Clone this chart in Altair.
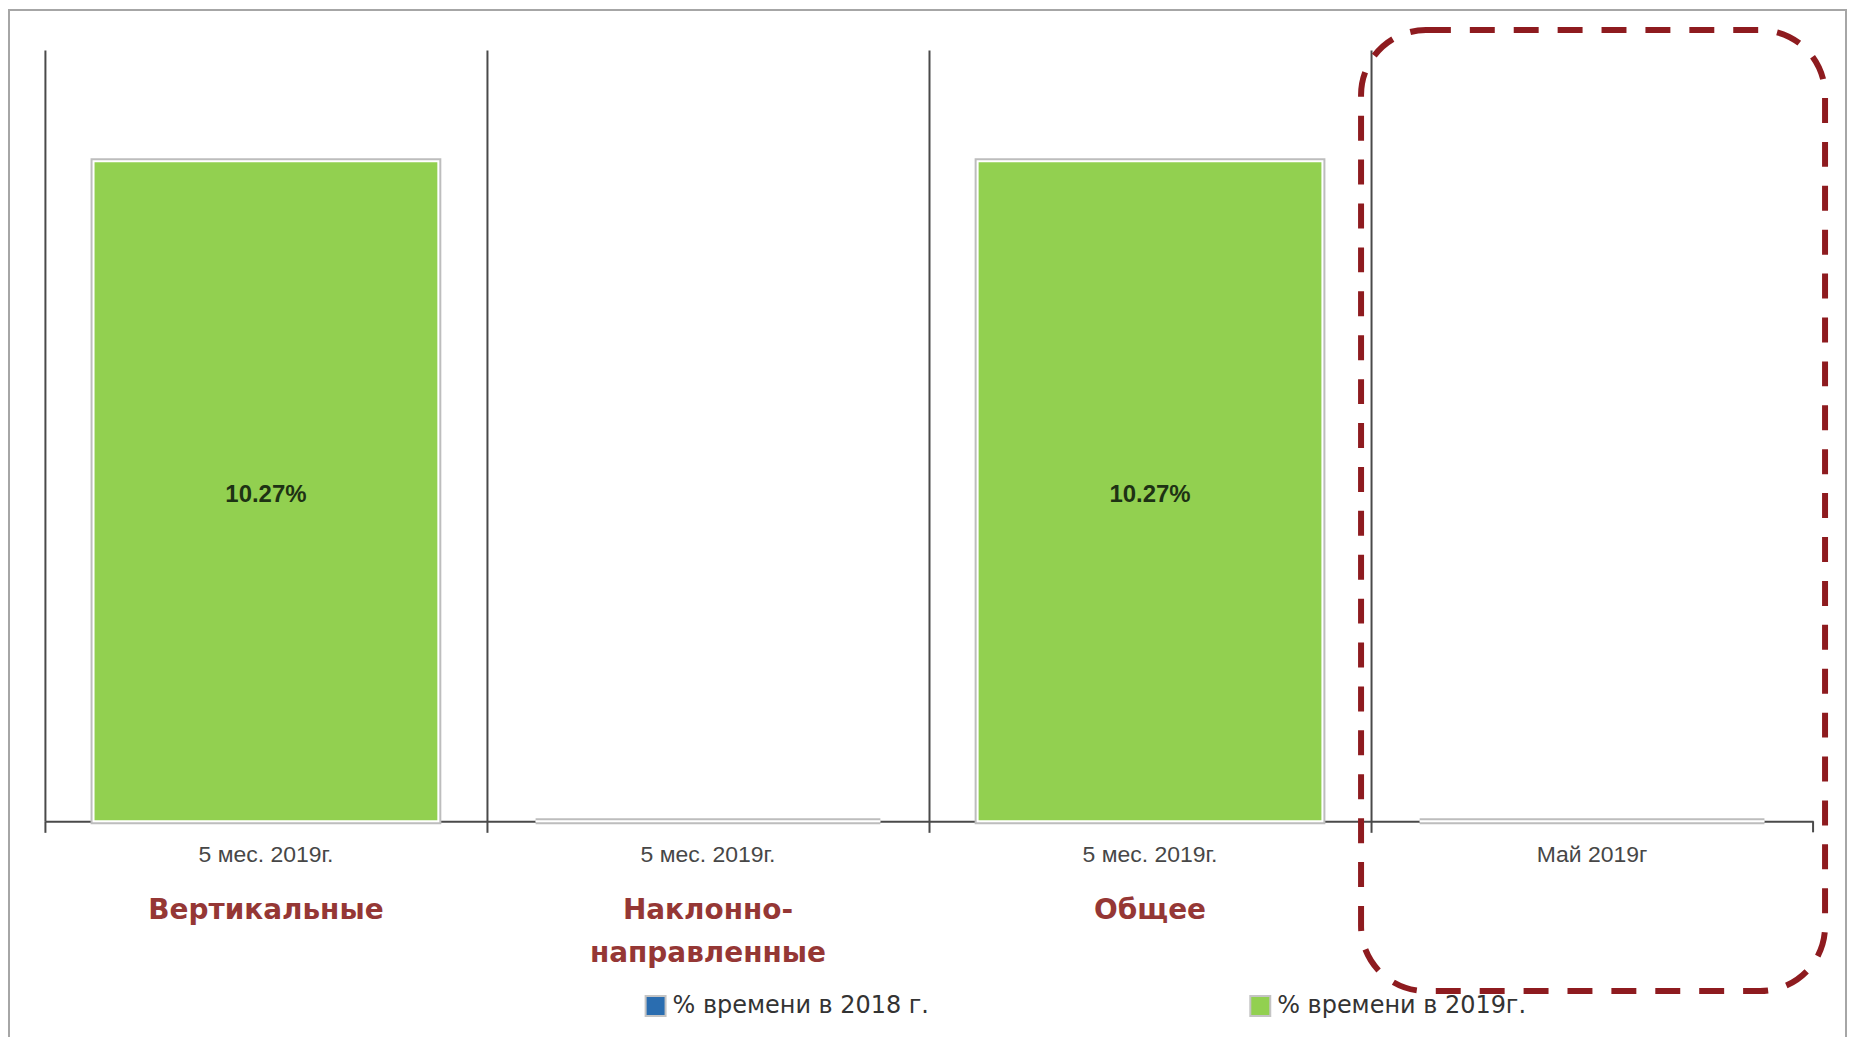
import json
import altair as alt
import pandas as pd

# ---- data ----
groups = ["Вертикальные", "Наклонно-направленные", "Общее", "Май"]
periods = ["5 мес. 2019г.", "5 мес. 2019г.", "5 мес. 2019г.", "Май 2019г"]
group_titles = ["Вертикальные", "Наклонно-\nнаправленные", "Общее", ""]
values_2019 = [10.27, 0.0, 10.27, 0.0]
series_names = ["% времени в 2018 г.", "% времени в 2019г."]
series_colors = ["#2a6db0", "#92d050"]

W, H = 1772, 773

df = pd.DataFrame({
    "group": groups,
    "period": periods,
    "title": group_titles,
    "value": values_2019,
    "series": [series_names[1]] * len(groups),
})

label_expr = "{}[indexof({}, datum.value)]".format(
    json.dumps(periods, ensure_ascii=False), json.dumps(groups, ensure_ascii=False)
)

x_enc = alt.X(
    "group:N",
    sort=groups,
    scale=alt.Scale(paddingInner=0, paddingOuter=0),
    axis=alt.Axis(
        title=None,
        bandPosition=0,
        labelExpr=label_expr,
        labelOverlap=False,
        labelAngle=0,
        labelFont="Liberation Sans",
        labelFontSize=23,
        labelColor="#474747",
        labelPadding=11,
        grid=True,
        gridColor="#4a4a4a",
        gridWidth=2,
        domainColor="#4a4a4a",
        domainWidth=2,
        tickColor="#4a4a4a",
        tickWidth=2,
        tickSize=11,
    ),
)
y_enc = alt.Y("value:Q", scale=alt.Scale(domain=[0, 12]), axis=None)
color_enc = alt.Color(
    "series:N",
    scale=alt.Scale(domain=series_names, range=series_colors),
    legend=alt.Legend(
        title=None,
        orient="none",
        legendX=600,
        legendY=946,
        direction="horizontal",
        columns=2,
        columnPadding=317,
        symbolType="square",
        symbolSize=400,
        symbolStrokeColor="#c4c4c4",
        symbolStrokeWidth=2,
        labelFont="DejaVu Sans",
        labelFontSize=24,
        labelColor="#333333",
        labelOffset=5,
        padding=0,
        labelLimit=400,
    ),
)

base = alt.Chart(df)

bar_outer = base.mark_bar(
    width=alt.RelativeBandSize(0.78), stroke="#bdbdbd", strokeWidth=6
).encode(x=x_enc, y=y_enc, color=color_enc)

bar_inner = base.mark_bar(
    width=alt.RelativeBandSize(0.78), stroke="white", strokeWidth=2
).encode(x=x_enc, y=y_enc, color=color_enc)

value_text = base.transform_filter("datum.value > 0").transform_calculate(
    mid="datum.value / 2", lbl="format(datum.value, '.2f') + '%'"
).mark_text(
    font="Liberation Sans", fontSize=24, fontWeight="bold", color="#1e3214", dy=4
).encode(x=x_enc, y=alt.Y("mid:Q", scale=alt.Scale(domain=[0, 12]), axis=None), text="lbl:N")

titles = base.mark_text(
    font="DejaVu Sans", fontSize=28, fontWeight="bold", color="#953735",
    baseline="top", lineBreak="\n", lineHeight=43, align="center",
).encode(x=x_enc, y=alt.value(849), text="title:N")

one = alt.Chart(pd.DataFrame({"k": [0]}))

end_tick = one.mark_rule(color="#4a4a4a", strokeWidth=2).encode(
    x=alt.value(W), y=alt.value(H), y2=alt.value(H + 11)
)

highlight = one.mark_rect(
    filled=False, stroke="#8e1b1f", strokeWidth=6, strokeDash=[25, 19], cornerRadius=65
).encode(x=alt.value(1319), x2=alt.value(1784), y=alt.value(-20), y2=alt.value(943))

frame = one.mark_rect(filled=False, stroke="#a6a6a6", strokeWidth=2).encode(
    x=alt.value(-36), x2=alt.value(1805), y=alt.value(-40), y2=alt.value(1010)
)

chart = alt.layer(
    frame, bar_outer, bar_inner, value_text, titles, end_tick, highlight
).properties(
    width=W, height=H,
    padding={"left": 37, "top": 41, "right": 35, "bottom": 215},
    autosize=alt.AutoSizeParams(type="none"),
).configure_view(stroke=None)

chart.save("out.html", embed_options={"renderer": "svg", "actions": False})
